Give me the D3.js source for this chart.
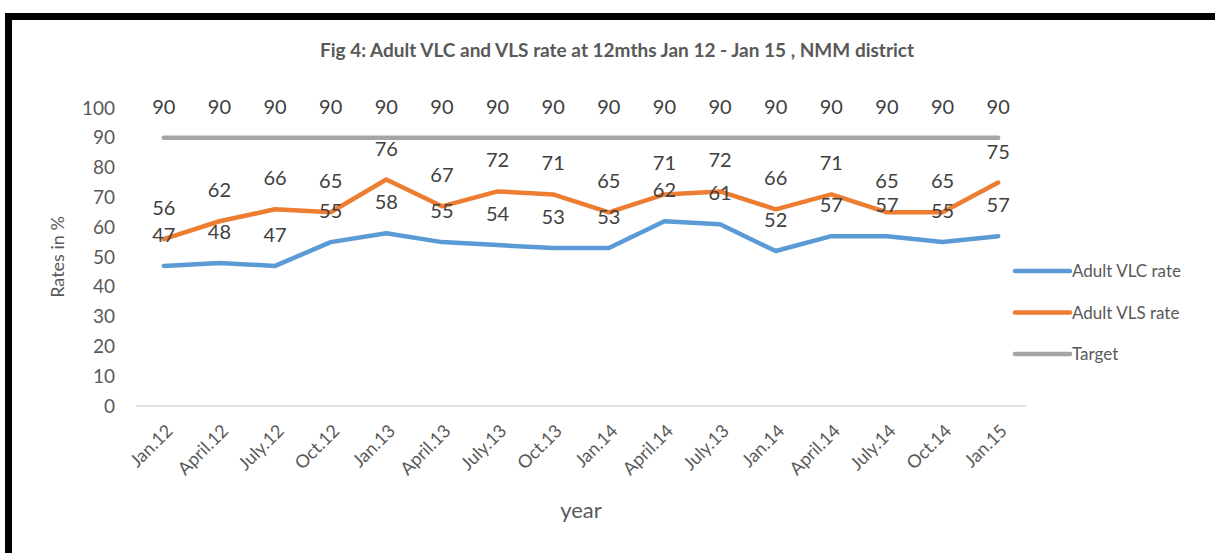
<!DOCTYPE html>
<html>
<head>
<meta charset="utf-8">
<script src="https://cdn.jsdelivr.net/npm/d3@7"></script>
<style>
  body { margin: 0; background: #fff; }
  svg { display: block; font-family: Lato, "Open Sans", sans-serif; }
</style>
</head>
<body>
<svg id="chart"></svg>
<script>
// category labels (as printed on the original, duplicates included)
const categories = ['Jan.12', 'April.12', 'July.12', 'Oct.12', 'Jan.13', 'April.13', 'July.13', 'Oct.13',
  'Jan.14', 'April.14', 'July.13', 'Jan.14', 'April.14', 'July.14', 'Oct.14', 'Jan.15']
const vlcRate = [47, 48, 47, 55, 58, 55, 54, 53, 53, 62, 61, 52, 57, 57, 55, 57]
const vlsRate = [56, 62, 66, 65, 76, 67, 72, 71, 65, 71, 72, 66, 71, 65, 65, 75]
const target = [90, 90, 90, 90, 90, 90, 90, 90, 90, 90, 90, 90, 90, 90, 90, 90]
const yTicks = [0, 10, 20, 30, 40, 50, 60, 70, 80, 90, 100]

const series = [
  { name: 'Adult VLC rate', values: vlcRate, color: '#5B9BD5' },
  { name: 'Adult VLS rate', values: vlsRate, color: '#ED7D31' },
  { name: 'Target', values: target, color: '#A5A5A5' }
]

const w = 1215
const h = 553
const margin = { top: 108, right: 189, bottom: 147, left: 136 }
const textColor = '#595959'

const svg = d3.select('#chart')
  .attr('width', w)
  .attr('height', h)

// frame (left + top black bars)
svg.append('rect').attr('x', 5).attr('y', 13).attr('width', w - 5).attr('height', 7).attr('fill', '#000')
svg.append('rect').attr('x', 5).attr('y', 13).attr('width', 7).attr('height', h - 13).attr('fill', '#000')

const xScale = d3.scaleBand()
  .domain(d3.range(categories.length))
  .range([margin.left, w - margin.right])

const yScale = d3.scaleLinear()
  .domain([0, 100])
  .range([h - margin.bottom, margin.top])

const cx = i => xScale(i) + xScale.bandwidth() / 2

// title
svg.append('text')
  .attr('x', 617)
  .attr('y', 57)
  .attr('text-anchor', 'middle')
  .attr('font-size', 19)
  .attr('font-weight', 'bold')
  .attr('fill', textColor)
  .text('Fig 4: Adult VLC and VLS rate at 12mths Jan 12 - Jan 15 , NMM district')

// y axis (labels only)
const yAxis = d3.axisLeft(yScale)
  .tickValues(yTicks)
  .tickSize(0)
  .tickPadding(21)

const gy = svg.append('g')
  .attr('transform', `translate(${margin.left}, 0)`)
  .call(yAxis)
gy.select('.domain').remove()
gy.selectAll('text')
  .attr('font-size', 19)
  .attr('font-family', 'Lato, sans-serif')
  .attr('fill', textColor)

// baseline
svg.append('line')
  .attr('x1', margin.left)
  .attr('x2', w - margin.right)
  .attr('y1', yScale(0))
  .attr('y2', yScale(0))
  .attr('stroke', '#d9d9d9')
  .attr('stroke-width', 1.5)

// x axis labels
const xAxis = d3.axisBottom(xScale)
  .tickSize(0)
  .tickFormat(i => categories[i])

const gx = svg.append('g')
  .attr('transform', `translate(0, ${yScale(0)})`)
  .call(xAxis)
gx.select('.domain').remove()
gx.selectAll('text')
  .attr('font-size', 18)
  .attr('font-family', 'Lato, sans-serif')
  .attr('fill', textColor)
  .attr('y', 0)
  .attr('dy', 0)
  .attr('transform', 'translate(10, 26) rotate(-45)')
  .style('text-anchor', 'end')

// axis titles
svg.append('text')
  .attr('transform', 'translate(64, 257) rotate(-90)')
  .attr('text-anchor', 'middle')
  .attr('font-size', 18)
  .attr('fill', textColor)
  .text('Rates in %')

svg.append('text')
  .attr('x', 581)
  .attr('y', 518)
  .attr('text-anchor', 'middle')
  .attr('font-size', 22)
  .attr('fill', textColor)
  .text('year')

// lines
const line = d3.line()
  .x((d, i) => cx(i))
  .y(d => yScale(d))

series.forEach(s => {
  svg.append('path')
    .datum(s.values)
    .attr('d', line)
    .attr('fill', 'none')
    .attr('stroke', s.color)
    .attr('stroke-width', 4.5)
    .attr('stroke-linejoin', 'round')
    .attr('stroke-linecap', 'round')
})

// data labels above points
series.forEach(s => {
  svg.append('g')
    .selectAll('text')
    .data(s.values)
    .join('text')
      .attr('x', (d, i) => cx(i))
      .attr('y', d => yScale(d) - 24)
      .attr('text-anchor', 'middle')
      .attr('font-size', 20)
      .attr('fill', '#404040')
      .text(d => d)
})

// legend
const legend = svg.append('g')
  .attr('transform', 'translate(1015, 271)')

series.forEach((s, i) => {
  const row = legend.append('g').attr('transform', `translate(0, ${i * 41.5})`)
  row.append('line')
    .attr('x1', 0).attr('x2', 55)
    .attr('stroke', s.color)
    .attr('stroke-width', 4.5)
    .attr('stroke-linecap', 'round')
  row.append('text')
    .attr('x', 57)
    .attr('y', 6)
    .attr('font-size', 17)
    .attr('fill', textColor)
    .text(s.name)
})
</script>
</body>
</html>
